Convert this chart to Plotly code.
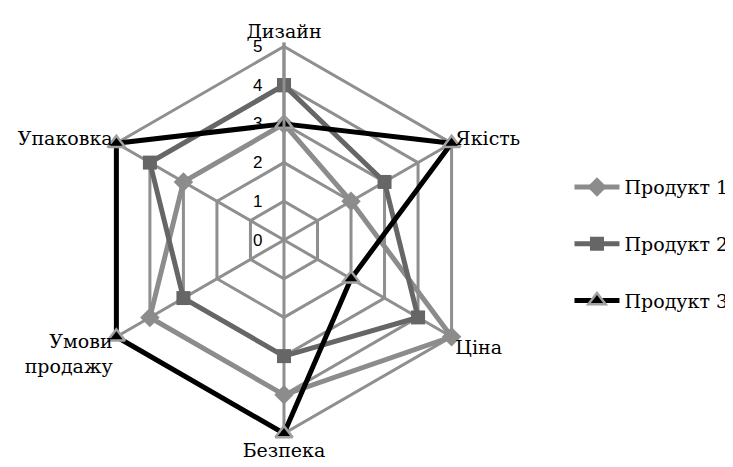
import plotly.graph_objects as go

categories = ["Дизайн", "Якість", "Ціна", "Безпека", "Умови<br>продажу", "Упаковка"]
product1 = [3, 2, 5, 4, 4, 3]
product2 = [4, 3, 4, 3, 3, 4]
product3 = [3, 5, 2, 5, 5, 5]
series_names = ["Продукт 1", "Продукт 2", "Продукт 3"]
radial_ticks = [0, 1, 2, 3, 4, 5]

GRID = "#8f8f8f"
SERIF = "DejaVu Serif"

def closed(v):
    return v + v[:1]

theta = closed(categories)

fig = go.Figure()
fig.add_trace(go.Scatterpolar(
    r=closed(product1), theta=theta, mode="lines+markers", name=series_names[0],
    legendgroup="a", cliponaxis=False,
    line=dict(color="#8c8c8c", width=5),
    marker=dict(symbol="diamond", size=15, color="#8c8c8c"),
))
fig.add_trace(go.Scatterpolar(
    r=closed(product2), theta=theta, mode="lines+markers", name=series_names[1],
    legendgroup="b", cliponaxis=False,
    line=dict(color="#666666", width=5),
    marker=dict(symbol="square", size=14, color="#666666"),
))
fig.add_trace(go.Scatterpolar(
    r=closed(product3), theta=theta, mode="lines+markers", name=series_names[2],
    legendgroup="c", cliponaxis=False,
    line=dict(color="#000000", width=5),
    marker=dict(symbol="triangle-up", size=15, color="#000000",
                line=dict(color="#a0a0a0", width=2.5)),
))

fig.update_layout(
    width=733, height=467,
    margin=dict(l=0, r=0, t=0, b=0, autoexpand=False),
    paper_bgcolor="white", plot_bgcolor="white",
    font=dict(family=SERIF, size=19, color="#000000"),
    polar=dict(
        domain=dict(x=[0.1072, 0.6458], y=[0.0805, 0.9259]),
        bgcolor="white",
        gridshape="linear",
        radialaxis=dict(
            range=[0, 5.1], tickvals=radial_ticks, angle=90,
            side="counterclockwise",
            showline=True, linecolor=GRID, linewidth=3,
            gridcolor=GRID, gridwidth=3,
            ticks="outside", ticklen=14, tickcolor="rgba(0,0,0,0)",
            tickfont=dict(family="Liberation Sans", size=17, color="#000000"),
            tickangle=90,
        ),
        angularaxis=dict(
            rotation=90, direction="clockwise",
            showline=False,
            gridcolor=GRID, gridwidth=3,
            ticks="",
            tickfont=dict(family=SERIF, size=19, color="#000000"),
        ),
    ),
    legend=dict(
        x=0.766, y=0.657, xanchor="left", yanchor="top",
        font=dict(family=SERIF, size=19, color="#000000"),
        tracegroupgap=29,
        itemwidth=45,
        bgcolor="rgba(0,0,0,0)",
    ),
    showlegend=True,
)

fig.write_html("out.html")
